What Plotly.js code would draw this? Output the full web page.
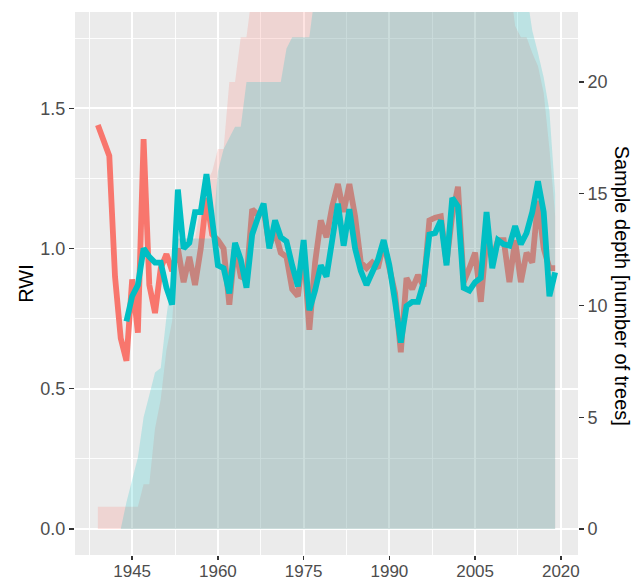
<!DOCTYPE html>
<html>
<head>
<meta charset="utf-8">
<script src="https://cdn.plot.ly/plotly-3.0.1.min.js"></script>
<style>html,body{margin:0;padding:0;background:#fff;}#chart{width:633px;height:582px;}</style>
</head>
<body>
<div id="chart"></div>
<script>
// ---- data ----
const redYears = [1939,1940,1941,1942,1943,1944,1945,1946,1947,1948,1949,1950,1951,1952,1953,1954,1955,1956,1957,1958,1959,1960,1961,1962,1963,1964,1965,1966,1967,1968,1969,1970,1971,1972,1973,1974,1975,1976,1977,1978,1979,1980,1981,1982,1983,1984,1985,1986,1987,1988,1989,1990,1991,1992,1993,1994,1995,1996,1997,1998,1999,2000,2001,2002,2003,2004,2005,2006,2007,2008,2009,2010,2011,2012,2013,2014,2015,2016,2017,2018,2019];
const redRWI = [1.44,1.39,1.33,0.90,0.68,0.60,0.89,0.70,1.39,0.87,0.77,0.93,0.98,0.92,1.00,0.88,0.97,0.87,1.00,1.18,1.05,1.03,1.00,0.80,1.01,0.90,0.89,1.14,1.12,1.14,1.01,1.06,0.985,0.97,0.855,0.83,1.00,0.71,0.95,1.10,1.04,1.15,1.23,1.13,1.23,1.115,0.95,0.93,0.95,0.93,1.02,0.93,0.84,0.63,0.895,0.855,0.905,0.865,1.10,1.11,1.115,0.95,1.12,1.22,0.88,0.93,0.985,0.81,1.04,0.96,1.03,1.03,0.88,1.03,0.88,0.985,0.95,1.17,1.00,0.93,0.93];
const redDepth = [1,1,1,1,1,1,1,1,2,2,4.5,5.8,8,9.3,13,13,13,13,14.5,15.5,16,17,17,20,20,22,22,24,25,26,26,27,27,27,27,27,27,27,27,27,27,27,27,27,27,27,27,27,27,27,27,27,27,27,27,27,27,27,27,27,27,27,27,27,27,27,27,27,27,27,26,26,24.5,22.5,22,22,21.3,20.7,19.5,17,14];

const cyanYears = [1943,1944,1945,1946,1947,1948,1949,1950,1951,1952,1953,1954,1955,1956,1957,1958,1959,1960,1961,1962,1963,1964,1965,1966,1967,1968,1969,1970,1971,1972,1973,1974,1975,1976,1977,1978,1979,1980,1981,1982,1983,1984,1985,1986,1987,1988,1989,1990,1991,1992,1993,1994,1995,1996,1997,1998,1999,2000,2001,2002,2003,2004,2005,2006,2007,2008,2009,2010,2011,2012,2013,2014,2015,2016,2017,2018,2019];
const cyanRWI = [null,0.74,0.83,0.87,1.00,0.97,0.95,0.95,0.86,0.80,1.21,1.00,1.02,1.13,1.13,1.265,1.10,0.94,0.93,0.84,1.02,0.96,0.86,1.05,1.11,1.16,1.00,1.10,1.04,1.025,0.94,0.865,1.03,0.78,0.85,0.94,0.90,1.03,1.16,1.01,1.14,1.00,0.92,0.87,0.91,0.96,1.03,0.94,0.81,0.665,0.795,0.81,0.81,0.88,1.05,1.055,1.10,0.94,1.18,1.15,0.86,0.85,0.88,0.895,1.13,0.93,1.03,1.015,1.01,1.08,1.015,1.055,1.13,1.24,1.13,0.83,0.915];
const cyanDepth = [0,1.2,2.2,3.2,5,6,7,7.2,9.5,11.5,13,13,13,13,13,13,13,16,17,17.5,18,18,20,20,20,20,20,20,20,21.5,22,22,22,22,24,25,25,25,26,26,26,26,26,26,26,26,26,26,26,26,26,26,26,26,26,26,26,26,26,26,26,26,26,26,26,26,26,26,26,25,25,24,22.3,21.3,20.2,18.7,15];

const xTicks = [1945,1960,1975,1990,2005,2020];
const yTicks = [0,0.5,1.0,1.5];
const depthTicks = [0,5,10,15,20];

// secondary-axis transform (trees per RWI unit), as in the original sec_axis
const treesPerRWI = 12.55;
const rwiRange = [-0.0925, 1.843];

const RED = '#F8766D', CYAN = '#00BFC4';
const FONT = 'Liberation Sans, Arial, sans-serif';

const traces = [
  {x: redYears, y: redDepth.map(d => d / treesPerRWI), type: 'scatter', mode: 'none',
   fill: 'tozeroy', fillcolor: 'rgba(248,118,109,0.2)', hoverinfo: 'skip', showlegend: false},
  {x: redYears, y: redRWI, type: 'scatter', mode: 'lines',
   line: {color: RED, width: 5.8}, showlegend: false},
  {x: cyanYears, y: cyanDepth.map(d => d / treesPerRWI), type: 'scatter', mode: 'none',
   fill: 'tozeroy', fillcolor: 'rgba(0,191,196,0.2)', hoverinfo: 'skip', showlegend: false},
  {x: cyanYears, y: cyanRWI, type: 'scatter', mode: 'lines', connectgaps: false,
   line: {color: CYAN, width: 5.8}, showlegend: false},
  // carries the secondary (sample depth) axis; drawn invisibly, the depth is shown by the areas above
  {x: cyanYears, y: cyanDepth, yaxis: 'y2', type: 'scatter', mode: 'lines',
   line: {width: 0, color: CYAN}, opacity: 0, hoverinfo: 'skip', showlegend: false}
];

const layout = {
  width: 633, height: 582,
  margin: {l: 75, r: 55, t: 12, b: 27, pad: 0},
  paper_bgcolor: '#FFFFFF', plot_bgcolor: '#EBEBEB',
  font: {family: FONT, size: 18, color: '#4D4D4D'},
  showlegend: false,
  xaxis: {
    range: [1935, 2023], tickmode: 'array', tickvals: xTicks,
    showgrid: true, gridcolor: '#FFFFFF', gridwidth: 1.8, zeroline: false,
    ticks: 'outside', ticklen: 4, tickwidth: 1.4, tickcolor: '#333333',
    ticklabelstandoff: -3,
    tickfont: {family: FONT, size: 17, color: '#4D4D4D'},
    minor: {tick0: 1937.5, dtick: 15, showgrid: true, gridcolor: '#FFFFFF', gridwidth: 0.9},
    showline: false, fixedrange: true
  },
  yaxis: {
    range: rwiRange, tickmode: 'array', tickvals: yTicks, tickformat: '.1f',
    showgrid: true, gridcolor: '#FFFFFF', gridwidth: 1.8, zeroline: false,
    ticks: 'outside', ticklen: 5, tickwidth: 1.4, tickcolor: '#333333',
    tickfont: {family: FONT, size: 18, color: '#4D4D4D'},
    minor: {tick0: 0.25, dtick: 0.5, showgrid: true, gridcolor: '#FFFFFF', gridwidth: 0.9},
    title: {text: 'RWI', font: {family: FONT, size: 20, color: '#000000'}, standoff: 1},
    showline: false, fixedrange: true
  },
  yaxis2: {
    overlaying: 'y', side: 'right', anchor: 'x',
    range: rwiRange.map(v => v * treesPerRWI), tickmode: 'array', tickvals: depthTicks,
    showgrid: false, zeroline: false,
    ticks: 'outside', ticklen: 5, tickwidth: 1.4, tickcolor: '#333333',
    tickfont: {family: FONT, size: 18, color: '#4D4D4D'},
    showline: false, fixedrange: true
  },
  annotations: [{
    text: 'Sample depth [number of trees]', xref: 'paper', yref: 'paper',
    x: 1.0875, y: 0.496, xanchor: 'center', yanchor: 'middle', textangle: 90,
    showarrow: false, font: {family: FONT, size: 20, color: '#000000'}
  }]
};

Plotly.newPlot('chart', traces, layout, {staticPlot: true, displayModeBar: false});
</script>
</body>
</html>
